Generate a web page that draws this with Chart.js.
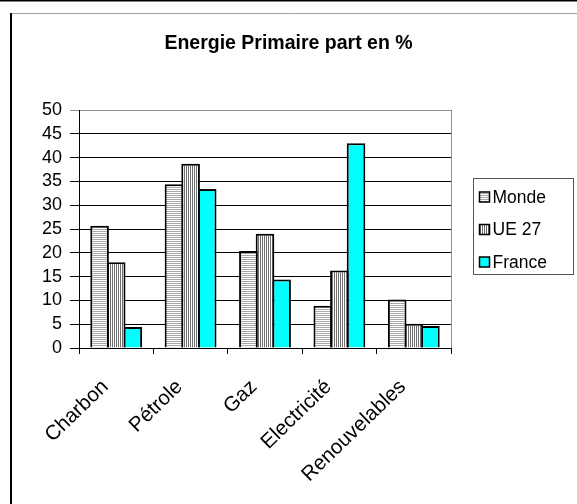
<!DOCTYPE html>
<html>
<head>
<meta charset="utf-8">
<script src="https://cdn.jsdelivr.net/npm/chart.js@4/dist/chart.umd.min.js"></script>
<style>
  html, body { margin: 0; padding: 0; background: #fff; overflow: hidden; }
</style>
</head>
<body>
<canvas id="chart" width="577" height="504"></canvas>
<script>
// data
const categories = ['Charbon', 'Pétrole', 'Gaz', 'Electricité', 'Renouvelables'];
const monde = [25.7, 34.4, 20.4, 8.9, 10.2];
const ue27 = [18.0, 38.7, 24.0, 16.3, 5.1];
const france = [4.4, 33.4, 14.4, 43.0, 4.6];
const yTicks = [0, 5, 10, 15, 20, 25, 30, 35, 40, 45, 50];

const FONT = "'Liberation Sans', Arial, sans-serif";

// fill patterns
function stripes(w, h, draw) {
    const c = document.createElement('canvas');
    c.width = w; c.height = h;
    const g = c.getContext('2d');
    g.fillStyle = '#fff';
    g.fillRect(0, 0, w, h);
    draw(g);
    return document.getElementById('chart').getContext('2d').createPattern(c, 'repeat');
}
const mondeFill = stripes(2, 2, g => { g.fillStyle = '#a8a8a8'; g.fillRect(0, 1, 2, 1); });
const ueFill = stripes(2, 2, g => { g.fillStyle = '#6e6e6e'; g.fillRect(0, 0, 1, 2); });
const franceFill = '#00ffff';

// frame, plot border, legend
const decor = {
    id: 'decor',
    beforeDraw(chart) {
        const ctx = chart.ctx;
        ctx.save();
        ctx.strokeStyle = '#000';
        ctx.lineWidth = 1.5;
        ctx.beginPath(); ctx.moveTo(0, 0.75); ctx.lineTo(577, 0.75); ctx.stroke();
        ctx.strokeStyle = '#a0a0a0';
        ctx.lineWidth = 1;
        ctx.beginPath(); ctx.moveTo(10, 13.5); ctx.lineTo(577, 13.5); ctx.stroke();
        ctx.strokeStyle = '#000';
        ctx.lineWidth = 2;
        ctx.beginPath(); ctx.moveTo(11, 13); ctx.lineTo(11, 504); ctx.stroke();
        ctx.restore();
    },
    afterDraw(chart) {
        const ctx = chart.ctx;
        const a = chart.chartArea;
        ctx.save();
        ctx.strokeStyle = '#909090';
        ctx.lineWidth = 1;
        ctx.beginPath(); ctx.moveTo(a.right + 0.5, a.top); ctx.lineTo(a.right + 0.5, a.bottom); ctx.stroke();

        // legend
        ctx.strokeStyle = '#555';
        ctx.strokeRect(473.5, 178.5, 100, 96);
        ctx.font = '17.5px ' + FONT;
        ctx.textBaseline = 'middle';
        chart.data.datasets.forEach((ds, i) => {
            const y = 197 + i * 32.5;
            ctx.fillStyle = ds.backgroundColor;
            ctx.fillRect(479.5, y - 5, 10, 10);
            ctx.strokeStyle = '#000';
            ctx.lineWidth = 1.5;
            ctx.strokeRect(479.5, y - 5, 10, 10);
            ctx.fillStyle = '#000';
            ctx.fillText(ds.label, 492.5, y + 1);
        });
        ctx.restore();
    }
};

new Chart(document.getElementById('chart'), {
    type: 'bar',
    data: {
        labels: categories,
        datasets: [
            { label: 'Monde', data: monde, backgroundColor: mondeFill },
            { label: 'UE 27', data: ue27, backgroundColor: ueFill },
            { label: 'France', data: france, backgroundColor: franceFill }
        ]
    },
    options: {
        responsive: false,
        animation: false,
        layout: { padding: 0 },
        datasets: {
            bar: {
                borderColor: '#000', borderWidth: 2,
                categoryPercentage: 0.67, barPercentage: 1.12
            }
        },
        plugins: {
            legend: { display: false },
            tooltip: { enabled: false },
            title: {
                display: true,
                text: 'Energie Primaire part en %',
                color: '#000',
                font: { family: FONT, size: 19.5, weight: 'bold' },
                padding: { top: 32, bottom: 54.6 }
            }
        },
        scales: {
            x: {
                grid: { drawOnChartArea: false, color: '#000', tickLength: 6, offset: true },
                border: { color: '#000', width: 1 },
                ticks: {
                    color: '#000', font: { family: FONT, size: 20.5 },
                    minRotation: 44, maxRotation: 44, autoSkip: false,
                    padding: 21, labelOffset: -11
                },
                afterFit: s => { s.height = 156; }
            },
            y: {
                min: 0, max: 50,
                afterBuildTicks: s => { s.ticks = yTicks.map(v => ({ value: v })); },
                grid: {
                    color: c => (c.tick && c.tick.value === 50 ? '#909090' : '#000'),
                    tickLength: 9
                },
                border: { color: '#000', width: 1 },
                ticks: { color: '#000', font: { family: FONT, size: 18 }, padding: 8, autoSkip: false },
                afterFit: s => { s.width = 79; }
            },
            y2: {
                position: 'right',
                grid: { display: false },
                border: { display: false },
                ticks: { display: false },
                afterFit: s => { s.width = 126; }
            }
        }
    },
    plugins: [decor]
});
</script>
</body>
</html>
